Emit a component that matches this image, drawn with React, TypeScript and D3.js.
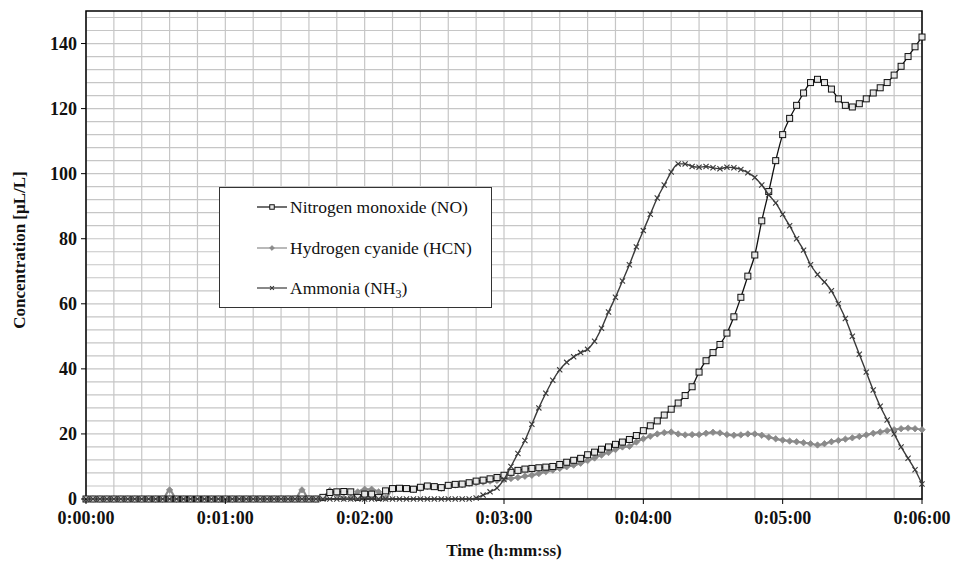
import React from "react";
import * as d3 from "d3";

// Time step of samples (seconds), 0:00:00 .. 0:06:00
const STEP_S = 3;

const NO_VALUES = [
  0, 0, 0, 0, 0, 0, 0, 0, 0, 0, 0, 0, 0, 0, 0, 0, 0, 0, 0, 0, 0, 0, 0, 0, 0, 0, 0, 0, 0, 0, 0, 0, 0, 0,
  0.5, 2, 2.2, 2.3, 2.2, 0.5, 1.5, 1.5, 0.5, 2.5, 3.2, 3.3, 3.2, 3, 3.6, 4, 3.8, 3.5, 4.2, 4.5, 4.6, 5,
  5.5, 5.8, 6.2, 6.6, 7.3, 8.2, 8.8, 9.2, 9.4, 9.6, 9.8, 10, 10.6, 11.3, 11.9, 12.5, 13.6, 14.4, 15.3,
  16, 16.8, 17.5, 18.3, 19.5, 21, 22.5, 24, 25.8, 27.6, 29.5, 31.8, 34.5, 39, 42.5, 45, 47.5, 51, 56,
  62, 68.5, 75, 85.5, 94.5, 104, 112, 117, 121, 124.8, 128, 129, 128, 126, 123, 121, 120.5, 121.5, 123,
  124.8, 126.4, 128, 130.3, 133, 136, 139, 142,
];

const HCN_VALUES = [
  0, 0, 0, 0, 0, 0, 0, 0, 0, 0, 0, 0, 2.8, 0, 0, 0, 0, 0, 0, 0, 0, 0, 0, 0, 0, 0, 0, 0, 0, 0, 0,
  2.8, 0, 0, 0.3, 2.6, 1.5, 0.3, 0.3, 2.2, 3, 3, 2.2, 0.3,
  3, 3.2, 3.2, 3, 3.2, 3.8, 3.8, 3.3, 4, 4.3, 4.4, 4.8, 5, 5.2, 5.5, 5.7, 6, 6.3, 6.6, 7, 7.3, 7.8,
  8.4, 8.9, 9.4, 9.9, 10.4, 11, 11.8, 12.6, 13.5, 14.3, 15.2, 16, 16.2, 17.5, 18.5, 19.3, 20, 20.4,
  20.6, 20, 19.7, 19.8, 19.8, 20.2, 20.5, 20.3, 19.8, 19.6, 19.7, 20, 20, 19.6, 19, 18.5, 18.1, 17.8,
  17.6, 17.3, 17, 16.6, 17, 17.6, 18, 18.4, 18.8, 19.2, 19.7, 20.2, 20.6, 21, 21.3, 21.6, 21.8, 21.6,
  21.3,
];

const NH3_VALUES = [
  0, 0, 0, 0, 0, 0, 0, 0, 0, 0, 0, 0, 0, 0, 0, 0, 0, 0, 0, 0, 0, 0, 0, 0, 0, 0, 0, 0,
  0, 0, 0, 0, 0, 0, 0, 0, 0, 0, 0, 0, 0, 0, 0, 0, 0, 0, 0, 0, 0, 0, 0, 0, 0, 0, 0, 0,
  0.3, 1.2, 2.2, 3.4, 6, 10, 14, 18, 23, 28, 32.5, 36.5, 39.7, 42, 43.7, 45, 46, 48.5, 52.5, 57.5,
  62, 67, 72, 77.5, 82.5, 87.5, 92.5, 96.5, 100.5, 103, 103, 102.2, 102, 102.2, 101.8, 101.5, 102,
  101.8, 101.3, 100.3, 98.8, 96.5, 93.5, 91, 87.5, 84, 80, 76.5, 72, 69, 66.7, 64, 60, 55.5, 50, 44.5,
  39, 33.5, 28.5, 24.3, 20, 16, 12.5, 9, 4.6,
];

const X_TICKS_S = [0, 60, 120, 180, 240, 300, 360];
const Y_TICKS = [0, 20, 40, 60, 80, 100, 120, 140];

const W = 960;
const H = 561;
const M = { left: 86, right: 922, top: 11, bottom: 499 };

function fmtTime(s: number) {
  const h = Math.floor(s / 3600);
  const m = Math.floor((s % 3600) / 60);
  const sec = s % 60;
  return `${h}:${String(m).padStart(2, "0")}:${String(sec).padStart(2, "0")}`;
}

type Marker = "square" | "diamond" | "cross";

function MarkerShape({ kind, x, y, color, s = 1 }: { kind: Marker; x: number; y: number; color: string; s?: number }) {
  if (kind === "square") {
    const h = 3 * s;
    return <rect x={x - h} y={y - h} width={2 * h} height={2 * h} fill="#e6e6e6" stroke={color} strokeWidth={1} />;
  }
  if (kind === "diamond") {
    const h = 3.2 * s;
    return <path d={`M${x},${y - h}L${x + h},${y}L${x},${y + h}L${x - h},${y}Z`} fill={color} stroke={color} strokeWidth={0.8} />;
  }
  const h = 2.6 * s;
  return (
    <path d={`M${x - h},${y - h}L${x + h},${y + h}M${x - h},${y + h}L${x + h},${y - h}`} stroke={color} strokeWidth={1.1} fill="none" />
  );
}

export default function App() {
  const x = d3.scaleLinear().domain([0, 360]).range([M.left, M.right]);
  const y = d3.scaleLinear().domain([0, 150]).range([M.bottom, M.top]);

  const series = [
    { name: "HCN", values: HCN_VALUES, color: "#8a8a8a", marker: "diamond" as Marker, w: 2.2 },
    { name: "NO", values: NO_VALUES, color: "#111111", marker: "square" as Marker, w: 1.3 },
    { name: "NH3", values: NH3_VALUES, color: "#3a3a3a", marker: "cross" as Marker, w: 1.4 },
  ];

  const line = d3
    .line<number>()
    .x((_, i) => x(i * STEP_S))
    .y((d) => y(d))
    .curve(d3.curveMonotoneX);

  const xMinor = d3.range(0, 361, 12);
  const yMinor = d3.range(0, 151, 4);

  const tickFont = "'Liberation Serif', serif";

  const legendItems = [
    { label: "Nitrogen monoxide (NO)", color: "#111111", marker: "square" as Marker, y: 207 },
    { label: "Hydrogen cyanide (HCN)", color: "#8a8a8a", marker: "diamond" as Marker, y: 248 },
    { label: "NH3", color: "#3a3a3a", marker: "cross" as Marker, y: 288 },
  ];

  return (
    <svg width={W} height={H} style={{ position: "absolute", left: 0, top: 0, background: "#fff" }} fontFamily={tickFont}>
      <rect x={0} y={0} width={W} height={H} fill="#fff" />
      {/* grid */}
      <g stroke="#c6c6c6" strokeWidth={1.2}>
        {xMinor.map((t) => (
          <line key={"gx" + t} x1={x(t)} x2={x(t)} y1={M.top} y2={M.bottom} />
        ))}
        {yMinor.map((v) => (
          <line key={"gy" + v} x1={M.left} x2={M.right} y1={y(v)} y2={y(v)} />
        ))}
      </g>
      {/* plot border */}
      <rect x={M.left} y={M.top} width={M.right - M.left} height={M.bottom - M.top} fill="none" stroke="#000" strokeWidth={1.5} />

      {/* series */}
      {series.map((s) => (
        <g key={s.name}>
          <path d={line(s.values) || ""} fill="none" stroke={s.color} strokeWidth={s.w} />
          {s.values.map((v, i) => (
            <MarkerShape key={i} kind={s.marker} x={x(i * STEP_S)} y={y(v)} color={s.color} />
          ))}
        </g>
      ))}

      {/* axes ticks */}
      <g>
        {Y_TICKS.map((v) => (
          <g key={"yt" + v}>
            <line x1={M.left - 5} x2={M.left} y1={y(v)} y2={y(v)} stroke="#000" strokeWidth={1} />
            <text x={M.left - 9} y={y(v)} dy="0.35em" textAnchor="end" fontWeight="bold" fontSize={18} fill="#111">
              {v}
            </text>
          </g>
        ))}
        {X_TICKS_S.map((t) => (
          <g key={"xt" + t}>
            <line x1={x(t)} x2={x(t)} y1={M.bottom} y2={M.bottom + 5} stroke="#000" strokeWidth={1} />
            <text x={x(t)} y={524} textAnchor="middle" fontWeight="bold" fontSize={18} fill="#111">
              {fmtTime(t)}
            </text>
          </g>
        ))}
      </g>

      {/* axis titles */}
      <text x={504} y={556} textAnchor="middle" fontWeight="bold" fontSize={17} fill="#111">
        Time (h:mm:ss)
      </text>
      <text transform={`translate(25,250) rotate(-90)`} textAnchor="middle" fontWeight="bold" fontSize={17} fill="#111">
        Concentration [μL/L]
      </text>

      {/* legend */}
      <g>
        <rect x={219.5} y={187.5} width={272} height={120} fill="#fff" stroke="#333" strokeWidth={1} />
        {legendItems.map((it) => (
          <g key={it.label}>
            <line x1={257} x2={287} y1={it.y} y2={it.y} stroke={it.color} strokeWidth={1.2} />
            <MarkerShape kind={it.marker} x={272} y={it.y} color={it.color} s={0.75} />
            <text x={290} y={it.y} dy="0.35em" fontSize={17.5} fill="#111">
              {it.label === "NH3" ? (
                <>
                  Ammonia (NH<tspan fontSize={12} dy="4">3</tspan>
                  <tspan dy="-4">)</tspan>
                </>
              ) : (
                it.label
              )}
            </text>
          </g>
        ))}
      </g>
    </svg>
  );
}
